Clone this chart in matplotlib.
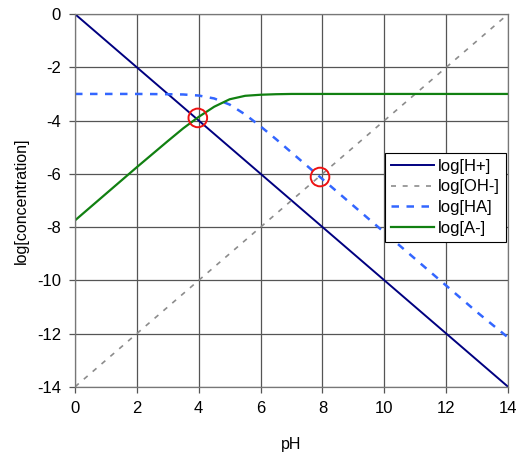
import numpy as np
import matplotlib.pyplot as plt

plt.rcParams['font.family'] = ['Liberation Sans', 'DejaVu Sans']
plt.rcParams['axes.unicode_minus'] = False

# straight lines, end points
ph_ends = [0, 14]
log_h = [0, -14]
log_oh = [-14, 0]

# curves
ph = [0, 1, 2, 3, 3.5, 4, 4.5, 5, 5.5, 6, 6.5, 7, 8, 9, 10, 11, 12, 13, 14]
log_a = [-7.75, -6.75, -5.75, -4.77, -4.29, -3.86, -3.48, -3.2, -3.07, -3.03,
         -3.01, -3.0, -3.0, -3.0, -3.0, -3.0, -3.0, -3.0, -3.0]
log_ha = [-3.0, -3.0, -3.0, -3.01, -3.02, -3.06, -3.17, -3.4, -3.77, -4.22,
          -4.7, -5.2, -6.2, -7.2, -8.2, -9.2, -10.2, -11.2, -12.15]

# marked points
mark_x = [3.97, 7.92]
mark_y = [-3.9, -6.12]

fig = plt.figure(figsize=(5.19, 4.54), dpi=100)
ax = fig.add_axes([0.1445, 0.148, 0.8345, 0.821])

ax.plot(ph_ends, log_h, color='#000080', lw=1.4, label='log[H+]')
ax.plot(ph_ends, log_oh, color='#8c8c8c', lw=1.2, ls=(0, (3, 4)), label='log[OH-]')
ax.plot(ph, log_ha, color='#3366ff', lw=1.8, ls=(0, (3, 3)), label='log[HA]')
ax.plot(ph, log_a, color='#118011', lw=1.6, label='log[A-]')
ax.scatter(mark_x, mark_y, s=180, facecolors='none', edgecolors='#ee1111',
           linewidths=1.4, zorder=5)

ax.set_xlim(0, 14)
ax.set_ylim(-14, 0)
ax.set_xticks(np.arange(0, 15, 2))
ax.set_yticks(np.arange(-14, 1, 2))
ax.grid(True, color='#555555', lw=0.9)
ax.set_axisbelow(True)
for s in ax.spines.values():
    s.set_color('#777777')
    s.set_linewidth(0.9)
ax.tick_params(direction='out', length=4, width=0.9, color='#555555',
               labelsize=12, pad=6)

ax.set_xlabel('pH', fontsize=11.5, labelpad=15)
ax.set_ylabel('log[concentration]', fontsize=11.5, labelpad=6)

leg = ax.legend(loc='upper right', bbox_to_anchor=(0.995, 0.628), fontsize=12,
                frameon=True, fancybox=False, framealpha=1, edgecolor='black',
                handlelength=2.6, borderpad=0.35, labelspacing=0.35,
                handletextpad=0.25, borderaxespad=0)
leg.get_frame().set_linewidth(0.8)

fig.savefig('out.png', dpi=100)
